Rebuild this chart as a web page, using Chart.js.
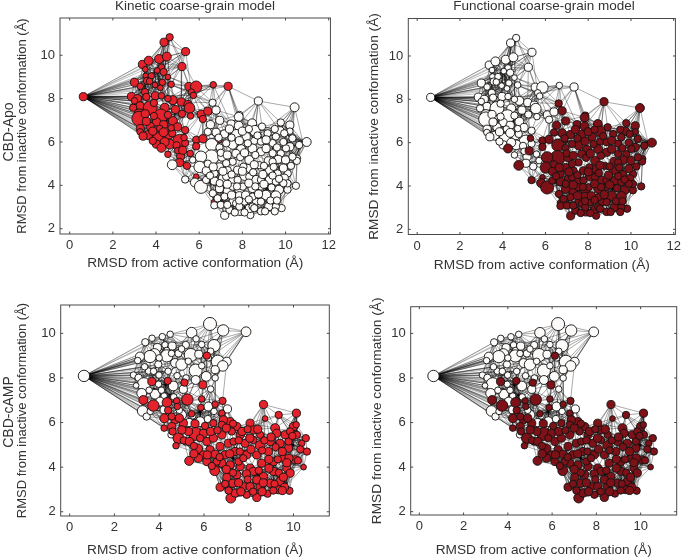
<!DOCTYPE html>
<html><head><meta charset="utf-8">
<script src="https://cdn.jsdelivr.net/npm/chart.js@4"></script>
<style>
html,body{margin:0;padding:0;background:#fff;width:685px;height:558px;overflow:hidden}
canvas{position:absolute}
.t{position:absolute;font:13.5px "Liberation Sans",Arial,sans-serif;color:#333;white-space:nowrap;transform:translate(-50%,-50%)}
.r{font-size:14px;transform:translate(-50%,-50%) rotate(-90deg)}
</style></head><body>
<canvas id="a" width="340" height="279" style="left:0;top:0"></canvas>
<canvas id="b" width="345" height="279" style="left:340px;top:0"></canvas>
<canvas id="c" width="340" height="279" style="left:0;top:279px"></canvas>
<canvas id="d" width="345" height="279" style="left:340px;top:279px"></canvas>
<div class="t" style="left:195px;top:5px">Kinetic coarse-grain model</div>
<div class="t" style="left:544px;top:5px">Functional coarse-grain model</div>
<div class="t r" style="left:8px;top:132px">CBD-Apo</div>
<div class="t r" style="left:8px;top:412px">CBD-cAMP</div>
<script>
const xTitle='RMSD from active conformation (Å)';
const yTitle='RMSD from inactive conformation (Å)';
const xTicksApo=[0,2,4,6,8,10,12];
const xTicksCamp=[0,2,4,6,8,10];
const yTicksAll=[2,4,6,8,10];

// CBD-Apo: red in kinetic, white in functional
const apoRWx=[.63,4.63,4.37,5.37,3.37,3.66,4.14,4.5,5.2,4.25,4.35,3.52,3.78,3.0,3.58,3.27,3.95,4.29,4.7,5.52,5.86,6.65,7.34,5.64,5.73,3.49,2.86,3.14,3.97,4.25,3.55,4.78,5.17,5.48,5.55,3.26,3.73,2.94,4.4,3.22,3.22,4.22,4.02,4.78,4.35,3.73,3.27,3.26,5.0,3.63,3.4,4.17,4.1,4.6,5.09,4.63,4.02,6.09,6.17,6.4,5.58,4.55,5.14,5.09,5.43,3.5,3.9,3.55,4.55,4.9,5.2,5.6,3.9,4.55,3.0,4.75,4.35,3.85,4.95,3.7,4.05,3.5,4.55,4.2,4.4,5.35,5.35,5.0,3.85,4.7];
const apoRWy=[8.09,10.83,10.6,10.17,9.58,9.75,9.83,9.94,9.48,9.45,9.23,9.05,9.05,8.75,8.82,8.57,8.63,8.75,8.66,8.56,8.55,8.64,8.57,8.3,8.15,8.3,8.1,8.0,8.13,8.13,8.08,7.93,7.85,7.73,7.57,7.67,7.58,7.58,7.58,7.28,7.08,7.2,6.93,6.97,6.8,6.72,6.62,6.47,6.7,6.32,6.27,6.63,6.17,6.32,6.03,5.9,5.9,7.28,7.06,7.42,5.47,5.43,5.35,5.05,4.9,7.3,7.2,6.95,7.25,7.5,7.3,7.2,7.8,8.0,7.9,6.4,6.45,6.5,5.85,8.8,9.3,9.35,9.0,8.5,6.0,6.55,5.95,5.6,6.05,6.65];
const apoRWw=[10,9,10,10,10,11,11,11,10,8,9,7,8,10,9,8,7,8,8,10,14,8,10,8,8,9,10,10,10,8,9,11,10,10,13,10,17,9,11,13,18,17,10,11,10,10,10,8,10,11,10,8,14,10,17,12,10,10,9,10,8,8,10,10,9,10,9,10,9,10,9,8,9,8,8,9,11,10,9,8,7,7,7,7,11,9,9,8,9,8];
// CBD-Apo: red in kinetic, dark in functional
const apoRDx=[4.25,5.24,5.86,6.17,5.86,5.86,6.66,6.95,5.3];
const apoRDy=[5.73,5.62,6.1,6.15,5.8,4.4,3.23,6.05,6.2];
const apoRDw=[11,10,9,10,9,7,6,5,8];
// CBD-Apo: white in both
const apoWWx=[5.7];
const apoWWy=[5.17];
const apoWWw=[8];
// CBD-Apo: white in kinetic, dark in functional
const apoWDx=[6.62,8.74,10.42,10.98,6.78,7.86,7.83,6.95,6.52,7.48,7.83,8.45,8.58,9.78,10.2,9.74,10.2,6.78,7.17,6.4,7.71,8.18,9.55,8.55,6.58,6.94,7.55,7.94,8.47,9.4,10.2,8.86,9.78,6.57,6.08,7.06,7.7,8.32,8.78,9.2,9.66,10.0,10.55,10.52,6.02,4.75,6.33,6.94,7.32,7.78,8.25,9.25,9.63,10.1,5.35,5.8,6.08,6.7,7.08,7.54,8.1,8.63,9.25,9.94,10.48,9.7,10.09,6.94,7.36,7.86,8.47,9.09,9.55,7.86,6.7,7.18,7.4,7.89,8.37,8.32,8.86,9.22,9.82,7.57,8.1,8.63,7.25,7.86,8.25,8.86,9.17,8.91,9.4,9.4,8.05,7.55,7.25,6.71,7.25,7.78,8.32,8.86,8.86,8.47,8.86,7.71,7.17,6.63,6.32,10.02,10.32,9.94,10.32,10.63,10.09,9.55,8.02,7.55,8.47,7.86,9.55,
6.9,7.4,7.5,8.0,8.3,8.7,9.1,9.5,9.9,9.1,9.6,7.0,7.3,7.9,8.1,8.6,8.55,9.0,9.45,9.9,10.25,6.4,6.65,7.1,7.5,8.0,8.5,8.95,9.4,9.9,6.5,6.95,7.3,7.75,8.3,8.6,9.0,9.35,9.7,6.85,7.5,7.85,8.15,8.3,8.75,9.3,9.6,7.0,7.3,7.65,8.1,8.55,9.05,9.5];
const apoWDy=[7.81,7.89,7.6,6.0,7.47,7.25,7.16,7,6.8,6.83,6.75,6.86,6.52,6.9,6.78,6.52,6.5,6.45,6.37,6.47,6.37,6.25,6.25,6.05,5.88,5.75,5.87,5.67,5.7,5.95,5.78,5.55,5.47,5.3,5.32,5.32,5.47,5.17,4.93,5.13,5.2,5.17,5.25,5.13,4.85,4.95,4.67,4.85,4.7,4.7,4.78,4.7,4.55,4.55,4.27,4.13,3.93,4.2,4.32,4.25,4.45,4.25,4.25,4.33,3.98,3.8,3.8,3.85,3.72,3.8,3.87,3.55,3.52,3.52,3.08,2.62,2.87,2.8,2.63,2.93,2.8,3.02,2.95,3.25,3.25,3.25,5.94,6.06,5.94,6.02,6.4,6.71,5.48,5.09,4.86,5.09,5.02,4.55,4.4,4.25,4.4,4.25,3.94,3.48,3.25,3.17,3.48,3.63,4.25,5.71,5.32,6.4,6.17,5.86,4.09,4.17,3.94,3.94,3.02,3.02,3.02,
6.2,6.6,6.2,6.5,6.6,6.3,6.1,6.6,6.0,5.7,5.75,5.5,5.4,5.3,5.5,5.4,4.95,4.9,4.85,4.8,4.9,5.0,4.85,4.65,4.5,4.65,4.6,4.5,4.45,4.1,4.45,4.1,4.05,3.95,4.1,3.95,4.05,3.9,4.3,3.4,3.55,3.3,3.55,3.35,3.6,3.3,3.3,3.1,3.1,2.75,2.75,2.95,2.8,2.8];
const apoWDw=[9,10,11,11,10,9,11,10,10,10,11,11,13,9,10,10,8,10,10,9,11,10,9,9,15,9,11,11,11,9,10,10,9,18,14,11,10,11,9,10,10,10,8,9,14,12,10,10,9,10,10,10,9,9,9,11,16,10,10,10,12,11,10,10,9,11,9,10,13,11,11,12,12,10,9,10,9,10,9,10,9,10,9,10,9,9,9,10,9,9,9,9,9,9,9,9,9,9,9,9,9,9,9,9,9,9,9,9,9,9,9,9,9,9,9,9,9,9,9,9,9,
9,10,9,10,9,9,10,9,9,10,9,9,10,9,10,9,10,9,9,10,9,9,10,10,9,10,9,10,9,9,9,9,10,9,10,9,10,9,9,9,10,9,10,9,10,9,9,9,9,9,9,9,9,9];
// black bundles where many transitions meet
const apoBundleX=[6.48,7.0,9.17,9.55,4.48,4.94,4.0,10.8,7.9,8.9,6.9];
const apoBundleY=[4.17,3.17,3.86,3.02,7.0,7.48,9.3,6.0,3.3,3.35,4.1];

// CBD-cAMP: white in both models
const campWx=[.64,6.27,6.86,7.88,5.45,4.49,4.14,3.68,3.38,4.26,4.58,5.19,6.45,3.92,4.34,3.79,3.59,4.34,5.41,3.14,3.04,4.86,5.77,4.71,5.0,6.62,7.02,6.84,3.96,3.52,5.63,6.5,6.1,2.85,3.08,3.99,3.32,3.97,4.63,2.97,5.08,5.63,3.22,3.82,4.22,4.04,6.2,4.22,3.26,7.05,3.44,5.0,5.34,5.83,6.17,4.53,4.0,4.55,5.0,5.3,5.9,6.2,6.3,5.9,5.65,5.2,4.8,4.4,4.1,3.55,4.65,6.3,6.5,3.6,4.9,5.5,6.45,3.35,3.75];
const campWy=[8.09,10.42,10.13,10.07,10.03,9.96,9.85,9.78,9.6,9.48,9.43,9.48,9.45,9.36,9.25,9.06,8.96,8.99,9.03,8.96,8.78,9.1,9.06,8.67,8.6,8.73,8.73,8.54,8.61,8.31,8.33,8.37,8.07,8.13,8.01,8.13,7.72,7.72,7.64,7.66,7.49,7.91,7.31,7.27,7.19,6.94,6.72,6.57,6.52,6.61,6.27,6.34,6.0,6.04,6.16,5.45,8.9,9.1,9.3,8.75,8.55,8.9,9.2,9.5,9.75,8.0,8.1,8.3,7.45,7.45,7.15,7.5,8.0,6.5,6.55,6.3,6.5,8.5,8.3];
const campWw=[14,16,14,12,13,8,8,8,9,8,10,9,15,10,7,14,15,15,16,11,8,9,10,11,14,16,11,13,9,8,16,10,12,8,9,8,16,8,12,7,10,11,12,12,8,11,11,10,13,10,9,12,10,12,9,8,8,8,8,8,8,8,8,8,8,8,8,8,8,8,8,8,8,8,8,8,8,8,8];
// CBD-cAMP: red / dark in both models
const campRx=[6.13,3.67,4.38,5.13,5.95,5.26,5.9,6.83,3.29,3.74,4.35,4.78,4.81,6.5,5.86,5.45,6.8,4.23,4.71,8.66,9.34,10.13,8.73,4.22,4.86,5.62,4.75,5.72,5.19,5.34,6.48,6.72,7.2,8.51,10.55,10.6,10.45,9.82,8.36,7.91,8.84,9.18,10,10.12,10.37,5.08,5.31,5.01,4.56,5.98,6.13,6.42,6.8,7.17,6.87,7.47,7.62,8.06,8.21,7.84,7.09,6.72,6.27,5.98,6.5,6.94,7.39,7.91,8.36,8.96,8.88,9.4,9.63,9.25,9.78,9.55,10.07,9.11,8.58,8.06,7.62,7.17,6.8,6.13,5.75,7.47,7.02,7.76,8.21,8.66,9.11,9.7,9.85,9.4,8.96,8.51,8.06,7.29,8.36,9.33,7.39,9.85,10.15,9.78,5.83,6.57,7.32,8.51,8.21,7.54,7.76,6.42,6.8,7.24,4.56,
4.4,4.9,5.1,4.6,5.35,5.6,6.05,6.3,6.6,7.0,7.3,7.7,7.95,8.4,7.55,8.05,8.7,9.0,9.2,9.5,9.95,9.8,10.3,10.2,5.55,5.55,6.15,6.7,7.15,7.6,8.1,8.6,8.9,9.3,9.7,6.35,7.0,7.3,7.9,8.45,8.9,9.35,9.55,6.95,7.55,7.95,8.65,9.15,9.6,7.1,7.65,8.2,8.6,9.1,9.5];
const campRy=[9.0,7.84,7.87,7.79,7.69,7.03,7.06,6.97,7.01,6.76,6.9,6.97,6.72,6.82,6.67,6.39,6.42,6.19,6.12,6.81,6.34,6.42,6.18,5.75,5.3,5.49,4.96,4.82,5.15,4.28,3.84,3.1,2.61,4.97,5.3,4.7,4.0,2.94,2.64,2.76,2.81,5.75,5.82,5.9,5.07,5.97,5.6,5.67,5.82,5.52,5.15,5.3,5.45,6.04,6.12,5.82,5.45,5.97,5.67,5.07,5.07,4.93,4.78,4.55,4.58,4.55,4.7,4.55,4.55,5.15,4.7,5.07,5.45,5.52,4.85,4.4,4.33,4.25,4.18,3.96,4.03,4.1,4.18,4.25,4.4,3.66,3.54,3.13,3.81,3.58,3.81,3.96,3.73,3.36,3.28,3.13,3.13,3.28,3.43,2.99,2.84,5.6,5.45,5.15,5.3,4.25,5.15,5.45,5.22,4.25,4.4,5.97,5.9,5.6,6.27,
6.55,6.2,5.2,5.6,5.15,5.95,5.85,5.6,5.65,5.75,5.95,5.6,5.7,5.7,5.2,5.3,5.2,5.35,4.9,4.7,5.4,4.4,4.8,4.3,4.6,4.95,4.55,4.45,4.6,4.7,4.8,4.75,4.35,4.35,4.2,4.05,3.9,3.75,3.7,3.85,3.95,3.75,3.55,3.25,3.3,3.45,3.3,3.25,3.1,2.95,2.9,2.9,2.9,2.95,2.95];
const campRw=[9,10,9,9,10,14,8,9,11,14,12,8,8,8,8,8,8,11,10,10,9,10,7,8,13,16,8,12,9,11,12,10,12,12,9,9,7,9,10,9,9,11,10,8,8,10,10,10,10,10,10,10,10,10,10,10,10,10,10,10,10,10,10,10,10,10,10,10,10,10,10,10,10,10,10,10,10,10,10,10,10,10,10,10,10,10,10,10,10,10,10,10,10,10,10,10,10,10,10,10,10,9,9,9,9,9,9,9,9,9,9,9,9,9,9,
9,10,9,9,10,10,9,10,9,10,9,10,9,10,9,10,9,10,9,10,9,10,9,9,10,9,10,9,10,9,10,9,10,9,10,9,10,9,10,9,10,9,10,9,10,9,10,9,10,9,10,9,10,9,10];
const campBundleX=[6.42,9.1,10,9.7,4.5,7.3,7,5.83,8.4,4.3,5.2];
const campBundleY=[4.1,3.8,5,3.2,7.24,4.4,2.9,6.5,3.7,7.7,6.9];

const WHITE='#fdfbf9',RED='#e3222b',DARK='#7c1218';

function group(x,y,w,fill){return x.map((v,i)=>({x:v,y:y[i],w:w[i],fill}));}
function seg(out,a,b){out.push({x:a.x,y:a.y},{x:b.x,y:b.y},{x:null,y:null});}
function edges(nodes,bx,by){
  const seen=new Set(),out=[];
  const add=(i,j)=>{const k=i<j?i+'-'+j:j+'-'+i;if(i===j||seen.has(k))return;seen.add(k);seg(out,nodes[i],nodes[j]);};
  nodes.forEach((n,i)=>{
    const order=nodes.map((m,j)=>[(m.x-n.x)**2+(m.y-n.y)**2,j]).sort((a,b)=>a[0]-b[0]);
    for(let r=1;r<=8;r++)add(i,order[r][1]);
    add(i,order[11][1]);add(i,order[15][1]);add(i,order[22][1]);
  });
  bx.forEach((x,b)=>{
    const y=by[b];
    const order=nodes.map(m=>[(m.x-x)**2+(m.y-y)**2,m]).sort((p,q)=>p[0]-q[0]);
    for(let r=0;r<34;r++)seg(out,{x,y},order[r][1]);
  });
  return out;
}
function hubEdges(nodes){
  const hub=nodes.reduce((m,n)=>n.x<m.x?n:m,nodes[0]),out=[];
  nodes.forEach(n=>{
    if(n!==hub&&n.x<5.2&&Math.abs(n.y-hub.y)<=.66*(n.x-hub.x))seg(out,hub,n);
  });
  return out;
}
const inwardTicks={id:'inwardTicks',afterDatasetsDraw(c){
  const {ctx,chartArea:a,scales:{x,y}}=c;
  ctx.save();ctx.strokeStyle='#4a4a4a';ctx.lineWidth=1;
  ctx.strokeRect(a.left,a.top,a.right-a.left,a.bottom-a.top);
  ctx.beginPath();
  x.ticks.forEach(t=>{const p=x.getPixelForValue(t.value);ctx.moveTo(p,a.top);ctx.lineTo(p,a.top+2.5);ctx.moveTo(p,a.bottom);ctx.lineTo(p,a.bottom-2.5);});
  y.ticks.forEach(t=>{const p=y.getPixelForValue(t.value);ctx.moveTo(a.left,p);ctx.lineTo(a.left+2.5,p);ctx.moveTo(a.right,p);ctx.lineTo(a.right-2.5,p);});
  ctx.stroke();ctx.restore();
}};
function draw(id,nodes,bx,by,xr,yr,xt,box){
  const family='"Liberation Sans",Arial,sans-serif';
  const font={family,size:13};
  new Chart(document.getElementById(id),{
    type:'scatter',
    data:{datasets:[
      {label:'States',order:0,data:nodes.map(n=>({x:n.x,y:n.y})),
       pointBackgroundColor:nodes.map(n=>n.fill),pointBorderColor:'#111',pointBorderWidth:.9,
       pointRadius:nodes.map(n=>n.w/2.45)},
      {label:'Transitions',order:1,data:edges(nodes,bx,by),showLine:true,spanGaps:false,pointRadius:0,
       borderColor:'rgba(0,0,0,.62)',borderWidth:.55},
      {label:'Hub transitions',order:2,data:hubEdges(nodes),showLine:true,spanGaps:false,pointRadius:0,
       borderColor:'rgba(0,0,0,.5)',borderWidth:.5}
    ]},
    plugins:[inwardTicks],
    options:{responsive:false,animation:false,devicePixelRatio:1,clip:true,
      events:[],
      layout:{padding:box.pad},
      plugins:{legend:{display:false},tooltip:{enabled:false}},
      scales:{
        x:{type:'linear',min:xr[0],max:xr[1],
          afterBuildTicks:s=>{s.ticks=xt.map(v=>({value:v}));},
          afterFit:s=>{s.height=box.h;},
          grid:{display:false,drawTicks:false},border:{display:false},
          ticks:{font,color:'#333',padding:4,maxRotation:0,autoSkip:false},
          title:{display:true,text:xTitle,font:{family,size:13.7},color:'#333',padding:0}},
        y:{type:'linear',min:yr[0],max:yr[1],
          afterBuildTicks:s=>{s.ticks=yTicksAll.map(v=>({value:v}));},
          afterFit:s=>{s.width=box.w;},
          grid:{display:false,drawTicks:false},border:{display:false},
          ticks:{font,color:'#333',padding:5,autoSkip:false},
          title:{display:true,text:yTitle,font:{family,size:box.ys},color:'#333',padding:0}}
      }
    }
  });
}
const RW=c=>group(apoRWx,apoRWy,apoRWw,c),RD=c=>group(apoRDx,apoRDy,apoRDw,c),WW=c=>group(apoWWx,apoWWy,apoWWw,c),WD=c=>group(apoWDx,apoWDy,apoWDw,c);
draw('a',[...RW(RED),...RD(RED),...WW(WHITE),...WD(WHITE)],apoBundleX,apoBundleY,[-.45,12.08],[1.755,11.72],xTicksApo,{pad:{left:15,right:9,top:18,bottom:8},w:45,h:37,ys:13});
draw('b',[...RW(WHITE),...WW(WHITE),...RD(DARK),...WD(DARK)],apoBundleX,apoBundleY,[-.415,12.08],[1.76,11.73],xTicksApo,{pad:{left:26,right:6,top:18.5,bottom:5.5},w:42.3,h:39,ys:13.7});
draw('c',[...group(campWx,campWy,campWw,WHITE),...group(campRx,campRy,campRw,RED)],campBundleX,campBundleY,[-.4,11.6],[1.81,11.27],xTicksCamp,{pad:{left:15,right:10.7,top:26,bottom:0},w:45.7,h:42,ys:13});
draw('d',[...group(campWx,campWy,campWw,WHITE),...group(campRx,campRy,campRw,DARK)],campBundleX,campBundleY,[-.39,11.63],[1.85,11.2],xTicksCamp,{pad:{left:29,right:8.3,top:27.7,bottom:0},w:41.7,h:43,ys:13.7});
</script>
</body></html>
